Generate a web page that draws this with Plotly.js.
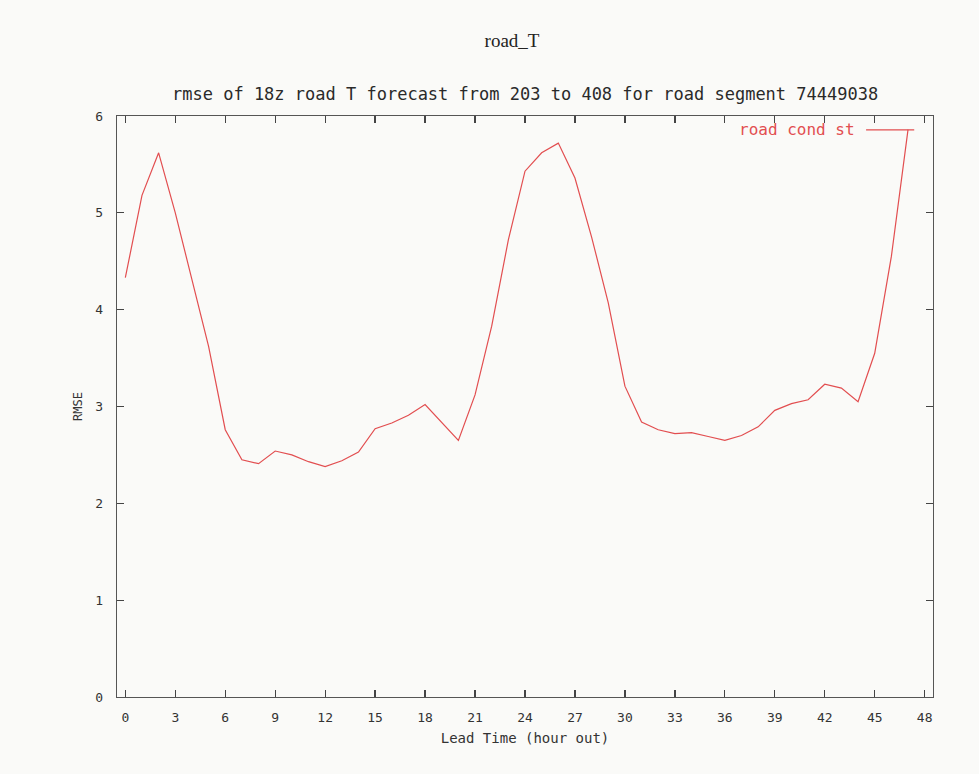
<!DOCTYPE html>
<html>
<head>
<meta charset="utf-8">
<script src="https://cdn.plot.ly/plotly-3.0.1.min.js"></script>
<style>
  html, body { margin: 0; padding: 0; background: #fafaf8; }
  #chart { width: 979px; height: 774px; }
</style>
</head>
<body>
<div id="chart"></div>
<script>
// Data
const leadHours = [0,1,2,3,4,5,6,7,8,9,10,11,12,13,14,15,16,17,18,19,20,21,22,23,
                   24,25,26,27,28,29,30,31,32,33,34,35,36,37,38,39,40,41,42,43,44,45,46,47];
const rmseValues = [4.33,5.18,5.62,5.00,4.31,3.62,2.76,2.45,2.41,2.54,2.50,2.43,2.38,2.44,2.53,2.77,
                    2.83,2.91,3.02,2.83,2.65,3.12,3.83,4.72,5.43,5.62,5.72,5.36,4.75,4.07,3.21,2.84,
                    2.76,2.72,2.73,2.69,2.65,2.70,2.79,2.96,3.03,3.07,3.23,3.19,3.05,3.55,4.55,5.86];
const xTickVals = [0,3,6,9,12,15,18,21,24,27,30,33,36,39,42,45,48];
const yTickVals = [0,1,2,3,4,5,6];
const seriesName = "road cond st";
const mainTitle = "road_T";
const subTitle = "rmse of 18z road T forecast from 203 to 408 for road segment 74449038";
const xTitle = "Lead Time (hour out)";
const yTitle = "RMSE";

const lineColor = "#e24e50";
const monoFont = "DejaVu Sans Mono, Liberation Mono, monospace";

const trace = {
  x: leadHours,
  y: rmseValues,
  type: "scatter",
  mode: "lines",
  name: seriesName,
  line: { color: lineColor, width: 1.2 },
  showlegend: false
};

const layout = {
  width: 979,
  height: 774,
  paper_bgcolor: "#fafaf8",
  plot_bgcolor: "#fafaf8",
  margin: { l: 117, r: 46, t: 116, b: 77, pad: 0 },
  title: {
    text: mainTitle,
    font: { family: "Liberation Serif, DejaVu Serif, serif", size: 19, color: "#222" },
    x: 0.523, xref: "container", xanchor: "center",
    y: 0.948, yref: "container", yanchor: "middle"
  },
  xaxis: {
    range: [-0.5, 48.5],
    tickvals: xTickVals,
    ticktext: xTickVals.map(String),
    ticks: "inside",
    ticklen: 7,
    tickwidth: 1.3,
    tickcolor: "#444",
    mirror: "ticks",
    showline: true,
    linecolor: "#555",
    linewidth: 1.3,
    showgrid: false,
    zeroline: false,
    ticklabelstandoff: 8,
    tickfont: { family: monoFont, size: 13, color: "#333" },
    title: { text: xTitle, font: { family: monoFont, size: 14, color: "#333" }, standoff: 9 }
  },
  yaxis: {
    range: [0, 6],
    tickvals: yTickVals,
    ticks: "inside",
    ticklen: 7,
    tickwidth: 1.3,
    tickcolor: "#444",
    mirror: "ticks",
    showline: true,
    linecolor: "#555",
    linewidth: 1.3,
    showgrid: false,
    zeroline: false,
    ticklabelstandoff: 10,
    tickfont: { family: monoFont, size: 13, color: "#333" },
    title: { text: yTitle, font: { family: monoFont, size: 12, color: "#333" }, standoff: 10 }
  },
  annotations: [
    {
      text: subTitle,
      xref: "paper", yref: "paper",
      x: 0.5, y: 1.0,
      xanchor: "center", yanchor: "bottom",
      yshift: 10,
      showarrow: false,
      font: { family: monoFont, size: 17, color: "#2a2a2a" }
    },
    {
      text: seriesName,
      xref: "paper", yref: "paper",
      x: 0.907, y: 0.976,
      xanchor: "right", yanchor: "middle",
      showarrow: false,
      font: { family: monoFont, size: 16, color: lineColor }
    }
  ],
  shapes: [
    {
      type: "line",
      xref: "paper", yref: "paper",
      x0: 0.918, x1: 0.977, y0: 0.976, y1: 0.976,
      line: { color: lineColor, width: 1.3 }
    }
  ]
};

Plotly.newPlot("chart", [trace], layout, { displayModeBar: false, staticPlot: true });
</script>
</body>
</html>
